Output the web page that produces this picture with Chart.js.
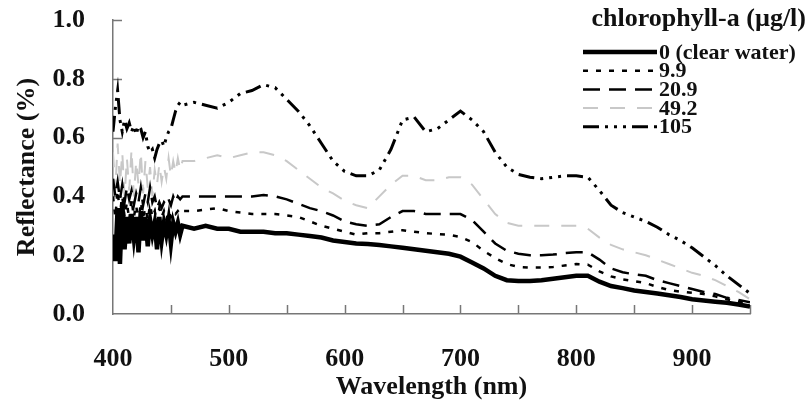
<!DOCTYPE html>
<html>
<head>
<meta charset="utf-8">
<script src="https://cdn.jsdelivr.net/npm/chart.js@4"></script>
<style>
  html, body { margin: 0; padding: 0; background: #fff; }
  #wrap { width: 809px; height: 407px; }
</style>
</head>
<body>
<div id="wrap"><canvas id="reflectancia"></canvas></div>
<script>
// comprimentos de onda (nm)
var wavelengths = [400, 402, 404, 406, 408, 410, 412, 414, 416, 418, 420, 422, 424, 426, 428, 430,
	432, 434, 436, 438, 440, 442, 444, 446, 448, 450, 452, 454, 456, 458, 460,
	470, 480, 490, 500, 510, 520, 530, 540, 550, 560, 570, 580, 590, 600, 610, 620, 630, 640,
	650, 660, 670, 680, 690, 700, 710, 720, 730, 740, 750, 760, 770, 780, 790, 800, 810, 820,
	830, 840, 850, 860, 870, 880, 890, 900, 910, 920, 930, 940, 950];

var seriesNames = ['0 (clear water)', '9.9', '20.9', '49.2', '105'];

var clearWater = [0.27, 0.18, 0.36, 0.17, 0.38, 0.22, 0.33, 0.24, 0.34, 0.26, 0.33, 0.21, 0.35, 0.25, 0.33, 0.23,
	0.32, 0.27, 0.31, 0.22, 0.33, 0.25, 0.31, 0.27, 0.32, 0.24, 0.31, 0.28, 0.31, 0.27, 0.30,
	0.29, 0.30, 0.29, 0.29, 0.28, 0.28, 0.28, 0.275, 0.275, 0.27, 0.265, 0.26, 0.25, 0.245, 0.24, 0.238, 0.235, 0.23,
	0.225, 0.22, 0.215, 0.21, 0.205, 0.195, 0.175, 0.155, 0.13, 0.115, 0.112, 0.112, 0.115, 0.12, 0.125, 0.13, 0.13, 0.11,
	0.095, 0.088, 0.08, 0.075, 0.07, 0.064, 0.058, 0.05, 0.046, 0.042, 0.038, 0.032, 0.025];

var chl9 = [0.40, 0.33, 0.42, 0.34, 0.40, 0.33, 0.38, 0.32, 0.39, 0.33, 0.37, 0.31, 0.38, 0.33, 0.36, 0.32,
	0.37, 0.33, 0.35, 0.31, 0.36, 0.33, 0.35, 0.32, 0.35, 0.33, 0.35, 0.34, 0.35, 0.34, 0.35,
	0.35, 0.355, 0.36, 0.35, 0.345, 0.34, 0.34, 0.34, 0.335, 0.33, 0.315, 0.30, 0.29, 0.28, 0.27, 0.275, 0.275, 0.28,
	0.285, 0.28, 0.275, 0.272, 0.27, 0.262, 0.245, 0.215, 0.19, 0.17, 0.16, 0.158, 0.158, 0.16, 0.165, 0.17, 0.168, 0.145,
	0.128, 0.118, 0.112, 0.105, 0.092, 0.082, 0.076, 0.072, 0.068, 0.06, 0.05, 0.042, 0.035];

var chl20 = [0.46, 0.40, 0.45, 0.39, 0.44, 0.38, 0.43, 0.39, 0.42, 0.37, 0.41, 0.38, 0.43, 0.37, 0.41, 0.38,
	0.43, 0.38, 0.40, 0.36, 0.38, 0.36, 0.38, 0.37, 0.39, 0.37, 0.40, 0.38, 0.40, 0.39, 0.40,
	0.40, 0.40, 0.40, 0.40, 0.40, 0.40, 0.405, 0.40, 0.39, 0.375, 0.36, 0.35, 0.335, 0.315, 0.305, 0.30, 0.305, 0.33,
	0.35, 0.35, 0.34, 0.34, 0.34, 0.34, 0.32, 0.28, 0.24, 0.215, 0.205, 0.20, 0.20, 0.202, 0.207, 0.21, 0.21, 0.185,
	0.155, 0.142, 0.135, 0.13, 0.115, 0.105, 0.095, 0.085, 0.075, 0.068, 0.055, 0.048, 0.04];

var chl49 = [0.55, 0.42, 0.58, 0.44, 0.55, 0.40, 0.53, 0.42, 0.56, 0.40, 0.52, 0.44, 0.55, 0.41, 0.52, 0.43,
	0.50, 0.40, 0.49, 0.44, 0.51, 0.45, 0.50, 0.46, 0.53, 0.47, 0.52, 0.48, 0.53, 0.49, 0.52,
	0.52, 0.53, 0.54, 0.53, 0.54, 0.55, 0.55, 0.54, 0.52, 0.49, 0.46, 0.43, 0.41, 0.385, 0.37, 0.36, 0.40, 0.44,
	0.47, 0.47, 0.455, 0.455, 0.465, 0.465, 0.44, 0.39, 0.34, 0.31, 0.30, 0.30, 0.30, 0.30, 0.30, 0.30, 0.29, 0.26,
	0.235, 0.22, 0.21, 0.20, 0.185, 0.17, 0.155, 0.14, 0.13, 0.115, 0.095, 0.075, 0.05];

var chl105 = [0.62, 0.70, 0.76, 0.66, 0.62, 0.66, 0.63, 0.65, 0.62, 0.64, 0.61, 0.64, 0.63, 0.60, 0.62, 0.57,
	0.55, 0.56, 0.53, 0.56, 0.58, 0.59, 0.57, 0.60, 0.62, 0.63, 0.66, 0.69, 0.71, 0.72, 0.71,
	0.72, 0.71, 0.70, 0.72, 0.75, 0.76, 0.78, 0.77, 0.73, 0.69, 0.64, 0.58, 0.52, 0.485, 0.47, 0.47, 0.49, 0.56,
	0.66, 0.67, 0.62, 0.63, 0.66, 0.69, 0.66, 0.62, 0.55, 0.50, 0.475, 0.465, 0.46, 0.465, 0.47, 0.47, 0.465, 0.42,
	0.37, 0.345, 0.33, 0.315, 0.295, 0.27, 0.25, 0.225, 0.195, 0.165, 0.13, 0.10, 0.07];

var fonte = 'Liberation Serif, Times New Roman, serif';

function pontos(valores) {
	return wavelengths.map(function(w, i) { return {x: w, y: valores[i]}; });
}

function serie(nome, valores, cor, largura, tracejado) {
	return {
		label: nome,
		data: pontos(valores),
		borderColor: cor,
		borderWidth: largura,
		borderDash: tracejado,
		pointRadius: 0,
		fill: false,
		tension: 0
	};
}

// marcas dos eixos para dentro
var marcasInternas = {
	id: 'marcasInternas',
	beforeDatasetsDraw: function(chart) {
		var ctx = chart.ctx, x = chart.scales.x, y = chart.scales.y;
		ctx.save();
		ctx.strokeStyle = '#777';
		ctx.lineWidth = 1.5;
		ctx.beginPath();
		x.ticks.forEach(function(t) {
			if (t.value === x.min) return;
			var px = Math.round(x.getPixelForValue(t.value)) + 0.5;
			ctx.moveTo(px, y.bottom);
			ctx.lineTo(px, y.bottom - 9);
		});
		y.ticks.forEach(function(t) {
			if (t.value === y.min) return;
			var py = Math.round(y.getPixelForValue(t.value)) + 0.5;
			ctx.moveTo(x.left, py);
			ctx.lineTo(x.left + 9, py);
		});
		ctx.stroke();
		ctx.restore();
	}
};

// legenda dentro do grafico, canto superior direito
var legenda = {
	id: 'legenda',
	afterDraw: function(chart) {
		var ctx = chart.ctx;
		ctx.save();
		ctx.fillStyle = '#111';
		ctx.textBaseline = 'middle';
		ctx.font = 'bold 26px ' + fonte;
		ctx.textAlign = 'right';
		ctx.fillText('chlorophyll-a (\u00b5g/l)', 806, 19);
		ctx.textAlign = 'left';
		ctx.font = 'bold 22px ' + fonte;
		chart.data.datasets.forEach(function(ds, i) {
			var yy = 52 + i * 18.7;
			ctx.strokeStyle = ds.borderColor;
			ctx.lineWidth = ds.borderWidth;
			ctx.setLineDash(ds.borderDash || []);
			ctx.beginPath();
			ctx.moveTo(583, yy);
			ctx.lineTo(657, yy);
			ctx.stroke();
			ctx.setLineDash([]);
			ctx.fillText(ds.label, 659, yy + 1);
		});
		ctx.restore();
	}
};

var ctx = document.getElementById('reflectancia');
var chart = new Chart(ctx, {
	type: 'line',
	data: {
		datasets: [
			serie(seriesNames[0], clearWater, '#000', 4.5, []),
			serie(seriesNames[1], chl9, '#000', 2.5, [5, 8]),
			serie(seriesNames[2], chl20, '#000', 2.5, [17, 9]),
			serie(seriesNames[3], chl49, '#c8c8c8', 2, [15, 12]),
			serie(seriesNames[4], chl105, '#000', 3, [16, 6, 3, 6, 3, 6, 3, 6])
		]
	},
	options: {
		responsive: true,
		maintainAspectRatio: false,
		animation: false,
		layout: { padding: { top: 20, right: 59, left: 0, bottom: 0 } },
		plugins: {
			legend: { display: false },
			tooltip: { enabled: false }
		},
		scales: {
			x: {
				type: 'linear',
				min: 400,
				max: 950,
				afterFit: function(scale) { scale.height = 93; },
				border: { display: true, color: '#777', width: 1.5 },
				grid: { display: true, drawOnChartArea: false, drawTicks: false },
				ticks: {
					stepSize: 50,
					autoSkip: false,
					maxRotation: 0,
					padding: 30,
					color: '#111',
					font: { family: fonte, size: 26, weight: 'bold' },
					callback: function(v) { return v % 100 === 0 ? v : ''; }
				},
				title: {
					display: true,
					text: 'Wavelength (nm)',
					color: '#111',
					font: { family: fonte, size: 26, weight: 'bold' },
					padding: { top: 0, bottom: 4 }
				}
			},
			y: {
				min: 0,
				max: 1,
				afterFit: function(scale) {
					scale.width = 113;
					// o padding dos rotulos nao deve empurrar o topo
					scale.paddingTop = 0;
					scale.paddingBottom = 0;
				},
				border: { display: true, color: '#777', width: 1.5 },
				grid: { display: true, drawOnChartArea: false, drawTicks: false },
				ticks: {
					stepSize: 0.2,
					padding: 28,
					color: '#111',
					font: { family: fonte, size: 26, weight: 'bold' },
					callback: function(v) { return v.toFixed(1); }
				},
				title: {
					display: true,
					text: 'Reflectance (%)',
					color: '#111',
					font: { family: fonte, size: 26, weight: 'bold' },
					padding: { top: 12, bottom: 0 }
				}
			}
		}
	},
	plugins: [marcasInternas, legenda]
});
</script>
</body>
</html>
